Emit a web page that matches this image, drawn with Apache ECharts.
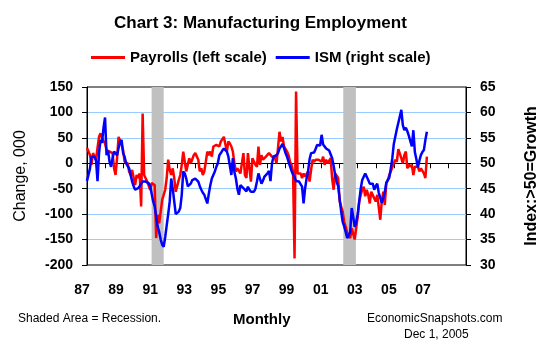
<!DOCTYPE html>
<html>
<head>
<meta charset="utf-8">
<script src="https://cdn.jsdelivr.net/npm/echarts@6/dist/echarts.min.js"></script>
<style>
  html, body { margin: 0; padding: 0; background: #fff; }
  #chart { width: 555px; height: 355px; }
</style>
</head>
<body>
<div id="chart"></div>
<script>
// Monthly data, Jan 1987 .. Nov 2005
var startYear = 1987;
var payrolls = [
  30,23,16,-3,20,23,7,30,52,59,49,46,
  39,26,29,23,26,20,-10,-23,10,52,49,36,
  26,3,3,0,-16,-23,-13,-13,-43,-23,-29,-20,
  -85,98,-23,-26,-36,-36,-52,-39,-36,-43,-147,-101,
  -118,-95,-72,-72,-52,-29,7,-13,-23,-10,-29,-56,
  -56,-33,-23,-3,23,3,-16,-3,10,0,-3,16,
  20,23,7,-16,-10,-23,-16,3,23,16,23,13,
  33,30,36,33,33,43,46,52,49,23,43,39,
  33,23,0,-16,-10,-13,-20,-20,20,-23,-29,20,
  -10,-36,10,10,-3,-7,33,-3,16,7,10,13,
  16,20,20,13,10,10,0,30,62,43,52,33,
  36,23,16,3,-3,-16,-187,141,-20,-23,-20,-29,
  -20,-26,-23,-16,-36,-13,7,3,7,10,7,10,
  3,13,-3,7,0,3,10,-30,-52,-20,-23,-29,
  -75,-85,-95,-115,-125,-136,-143,-147,-128,-138,-150,-128,
  -105,-75,-62,-52,-46,-65,-52,-62,-79,-56,-59,-69,
  -75,-62,-64,-111,-75,-56,-82,-40,-33,-23,-16,-13,
  0,7,3,28,26,10,0,16,23,-10,-3,-7,
  -3,-23,-7,-10,-7,-16,-10,-13,-20,-29,13
];
var ism = [
  46.5,46.7,49,51.3,51.3,51.3,50.5,46.5,52,54.6,54,57,
  59,51.6,52.5,50.3,49.3,51,52.3,52.3,51.6,53,54.2,54.6,
  52,51.3,50,50,49,47.7,46.4,45.5,44.8,44.8,45.1,45.5,
  45.8,46.4,46.4,46.4,46.4,46.1,45.5,44,42.5,41.5,39.5,37.5,
  36.5,35,34,33.6,35.5,37.8,40,42.5,47,45,42.5,40,
  39.8,40.5,41.2,43.8,48.4,48,47,45.5,45.5,46,46.7,46.4,
  47,46.7,46.4,45.5,44.8,44.2,43.8,43.5,42.1,44,45.7,47,
  47.7,48.4,49.3,50,51.6,52,52.5,52.9,52.9,52.3,51.3,51.6,
  47.7,51,48.3,47,45,43.8,45.7,46,45.1,44.8,44.5,45.4,
  44.8,44.4,44.2,44.4,45,46.4,48,47,46,46.6,47.4,47.7,
  48,48.5,46.5,50,51.3,51.3,51.6,52,52.9,53.3,53.8,53,
  52,51.3,50.3,50,48.5,47.8,47.3,46.5,46.4,46.4,46.2,45.4,
  42.1,45,47,48.4,50.8,52,51.8,52.1,52.8,53.6,53.9,53.5,
  55.6,53.7,53.3,52.9,52.9,52.5,52.3,51,49.5,47.7,46.3,45.5,
  43,40.5,38.5,37.6,36.5,35.3,35.8,36.5,41.2,39.5,37.5,38.5,
  40,42.5,45,46.7,47,48,47.7,46.7,46,45.8,46,44.8,
  45.5,46,44.2,43.2,42.2,43.1,44.3,46.2,46,47.2,49,51,
  53.8,54,56.7,57,59.2,60.5,57.5,56.5,57,56.3,55.4,55.2,
  53.3,56.5,52.2,50.8,49.2,50.5,51.6,52.2,52.6,54.6,56.2
];
var xTickLabels = ['87','89','91','93','95','97','99','01','03','05','07'];
var recessions = [[1990.58, 1991.25], [2001.2, 2001.9]];

function toPairs(arr) {
  return arr.map(function (v, i) { return [startYear + i / 12, v]; });
}

var FONT = '"Liberation Sans", Arial, sans-serif';
var chart = echarts.init(document.getElementById('chart'), null, { renderer: 'canvas' });

chart.setOption({
  animation: false,
  backgroundColor: '#fff',
  textStyle: { fontFamily: FONT },
  title: [
    { text: 'Chart 3: Manufacturing Employment', left: 114, top: 15, padding: 0,
      textStyle: { fontSize: 17, fontWeight: 'bold', color: '#000', fontFamily: FONT } },
    { text: 'Shaded Area = Recession.', left: 18, top: 313, padding: 0,
      textStyle: { fontSize: 12, fontWeight: 'normal', color: '#000', fontFamily: FONT } },
    { text: 'Monthly', left: 233, top: 312, padding: 0,
      textStyle: { fontSize: 15, fontWeight: 'bold', color: '#000', fontFamily: FONT } },
    { text: 'EconomicSnapshots.com', left: 367, top: 313, padding: 0,
      textStyle: { fontSize: 12, fontWeight: 'normal', color: '#000', fontFamily: FONT } },
    { text: 'Dec 1, 2005', left: 404, top: 329, padding: 0,
      textStyle: { fontSize: 12, fontWeight: 'normal', color: '#000', fontFamily: FONT } }
  ],
  legend: {
    left: 91, top: 50, padding: 0, itemGap: 9,
    itemWidth: 34, itemHeight: 3, icon: 'rect',
    textStyle: { fontSize: 15, fontWeight: 'bold', color: '#000', fontFamily: FONT },
    data: ['Payrolls (left scale)', 'ISM (right scale)']
  },
  grid: [
    { left: 87, right: 89, top: 87, bottom: 90, show: true, borderColor: '#000', borderWidth: 1, backgroundColor: 'transparent' },
    { left: 82, right: 132, top: 87, bottom: 90 }
  ],
  xAxis: [
    { type: 'value', gridIndex: 0, min: 1987, max: 2008, interval: 1,
      axisLine: { onZero: true, lineStyle: { color: '#000', width: 1 } },
      axisTick: { show: true, length: 5, lineStyle: { color: '#000' } },
      axisLabel: { show: false }, splitLine: { show: false } },
    { type: 'category', gridIndex: 1, data: xTickLabels, boundaryGap: false,
      axisLine: { show: false }, axisTick: { show: false }, splitLine: { show: false },
      axisLabel: { interval: 0, margin: 18, fontSize: 14, fontWeight: 'bold', color: '#000', fontFamily: FONT } }
  ],
  yAxis: [
    { type: 'value', gridIndex: 0, min: -200, max: 150, interval: 50, position: 'left',
      name: 'Change, 000', nameLocation: 'middle', nameGap: 58, nameRotate: 90,
      nameTextStyle: { fontSize: 16, fontWeight: 'normal', color: '#000', fontFamily: FONT },
      axisLine: { show: true, onZero: false, lineStyle: { color: '#000' } },
      axisTick: { show: true, length: 5, lineStyle: { color: '#000' } },
      axisLabel: { margin: 14, fontSize: 14, fontWeight: 'bold', color: '#000', fontFamily: FONT },
      splitLine: { show: true, showMinLine: false, showMaxLine: false, lineStyle: { color: '#99CCFF', width: 1 } } },
    { type: 'value', gridIndex: 0, min: 30, max: 65, interval: 5, position: 'right',
      name: 'Index:>50=Growth', nameLocation: 'middle', nameGap: 58, nameRotate: 90,
      nameTextStyle: { fontSize: 16, fontWeight: 'bold', color: '#000', fontFamily: FONT },
      axisLine: { show: true, onZero: false, lineStyle: { color: '#000' } },
      axisTick: { show: true, length: 5, lineStyle: { color: '#000' } },
      axisLabel: { margin: 14, fontSize: 14, fontWeight: 'bold', color: '#000', fontFamily: FONT },
      splitLine: { show: false } },
    { type: 'value', gridIndex: 1, show: false, min: 0, max: 1 }
  ],
  series: [
    { name: 'Payrolls (left scale)', type: 'line', xAxisIndex: 0, yAxisIndex: 0,
      data: toPairs(payrolls), symbol: 'none', showSymbol: false,
      itemStyle: { color: '#FF0000' }, lineStyle: { color: '#FF0000', width: 2.5 },
      markArea: { silent: true, itemStyle: { color: '#C0C0C0', opacity: 1 },
        data: recessions.map(function (r) { return [{ xAxis: r[0] }, { xAxis: r[1] }]; }) } },
    { name: 'ISM (right scale)', type: 'line', xAxisIndex: 0, yAxisIndex: 1,
      data: toPairs(ism), symbol: 'none', showSymbol: false,
      itemStyle: { color: '#0000FF' }, lineStyle: { color: '#0000FF', width: 2.5 } }
  ]
});
</script>
</body>
</html>
